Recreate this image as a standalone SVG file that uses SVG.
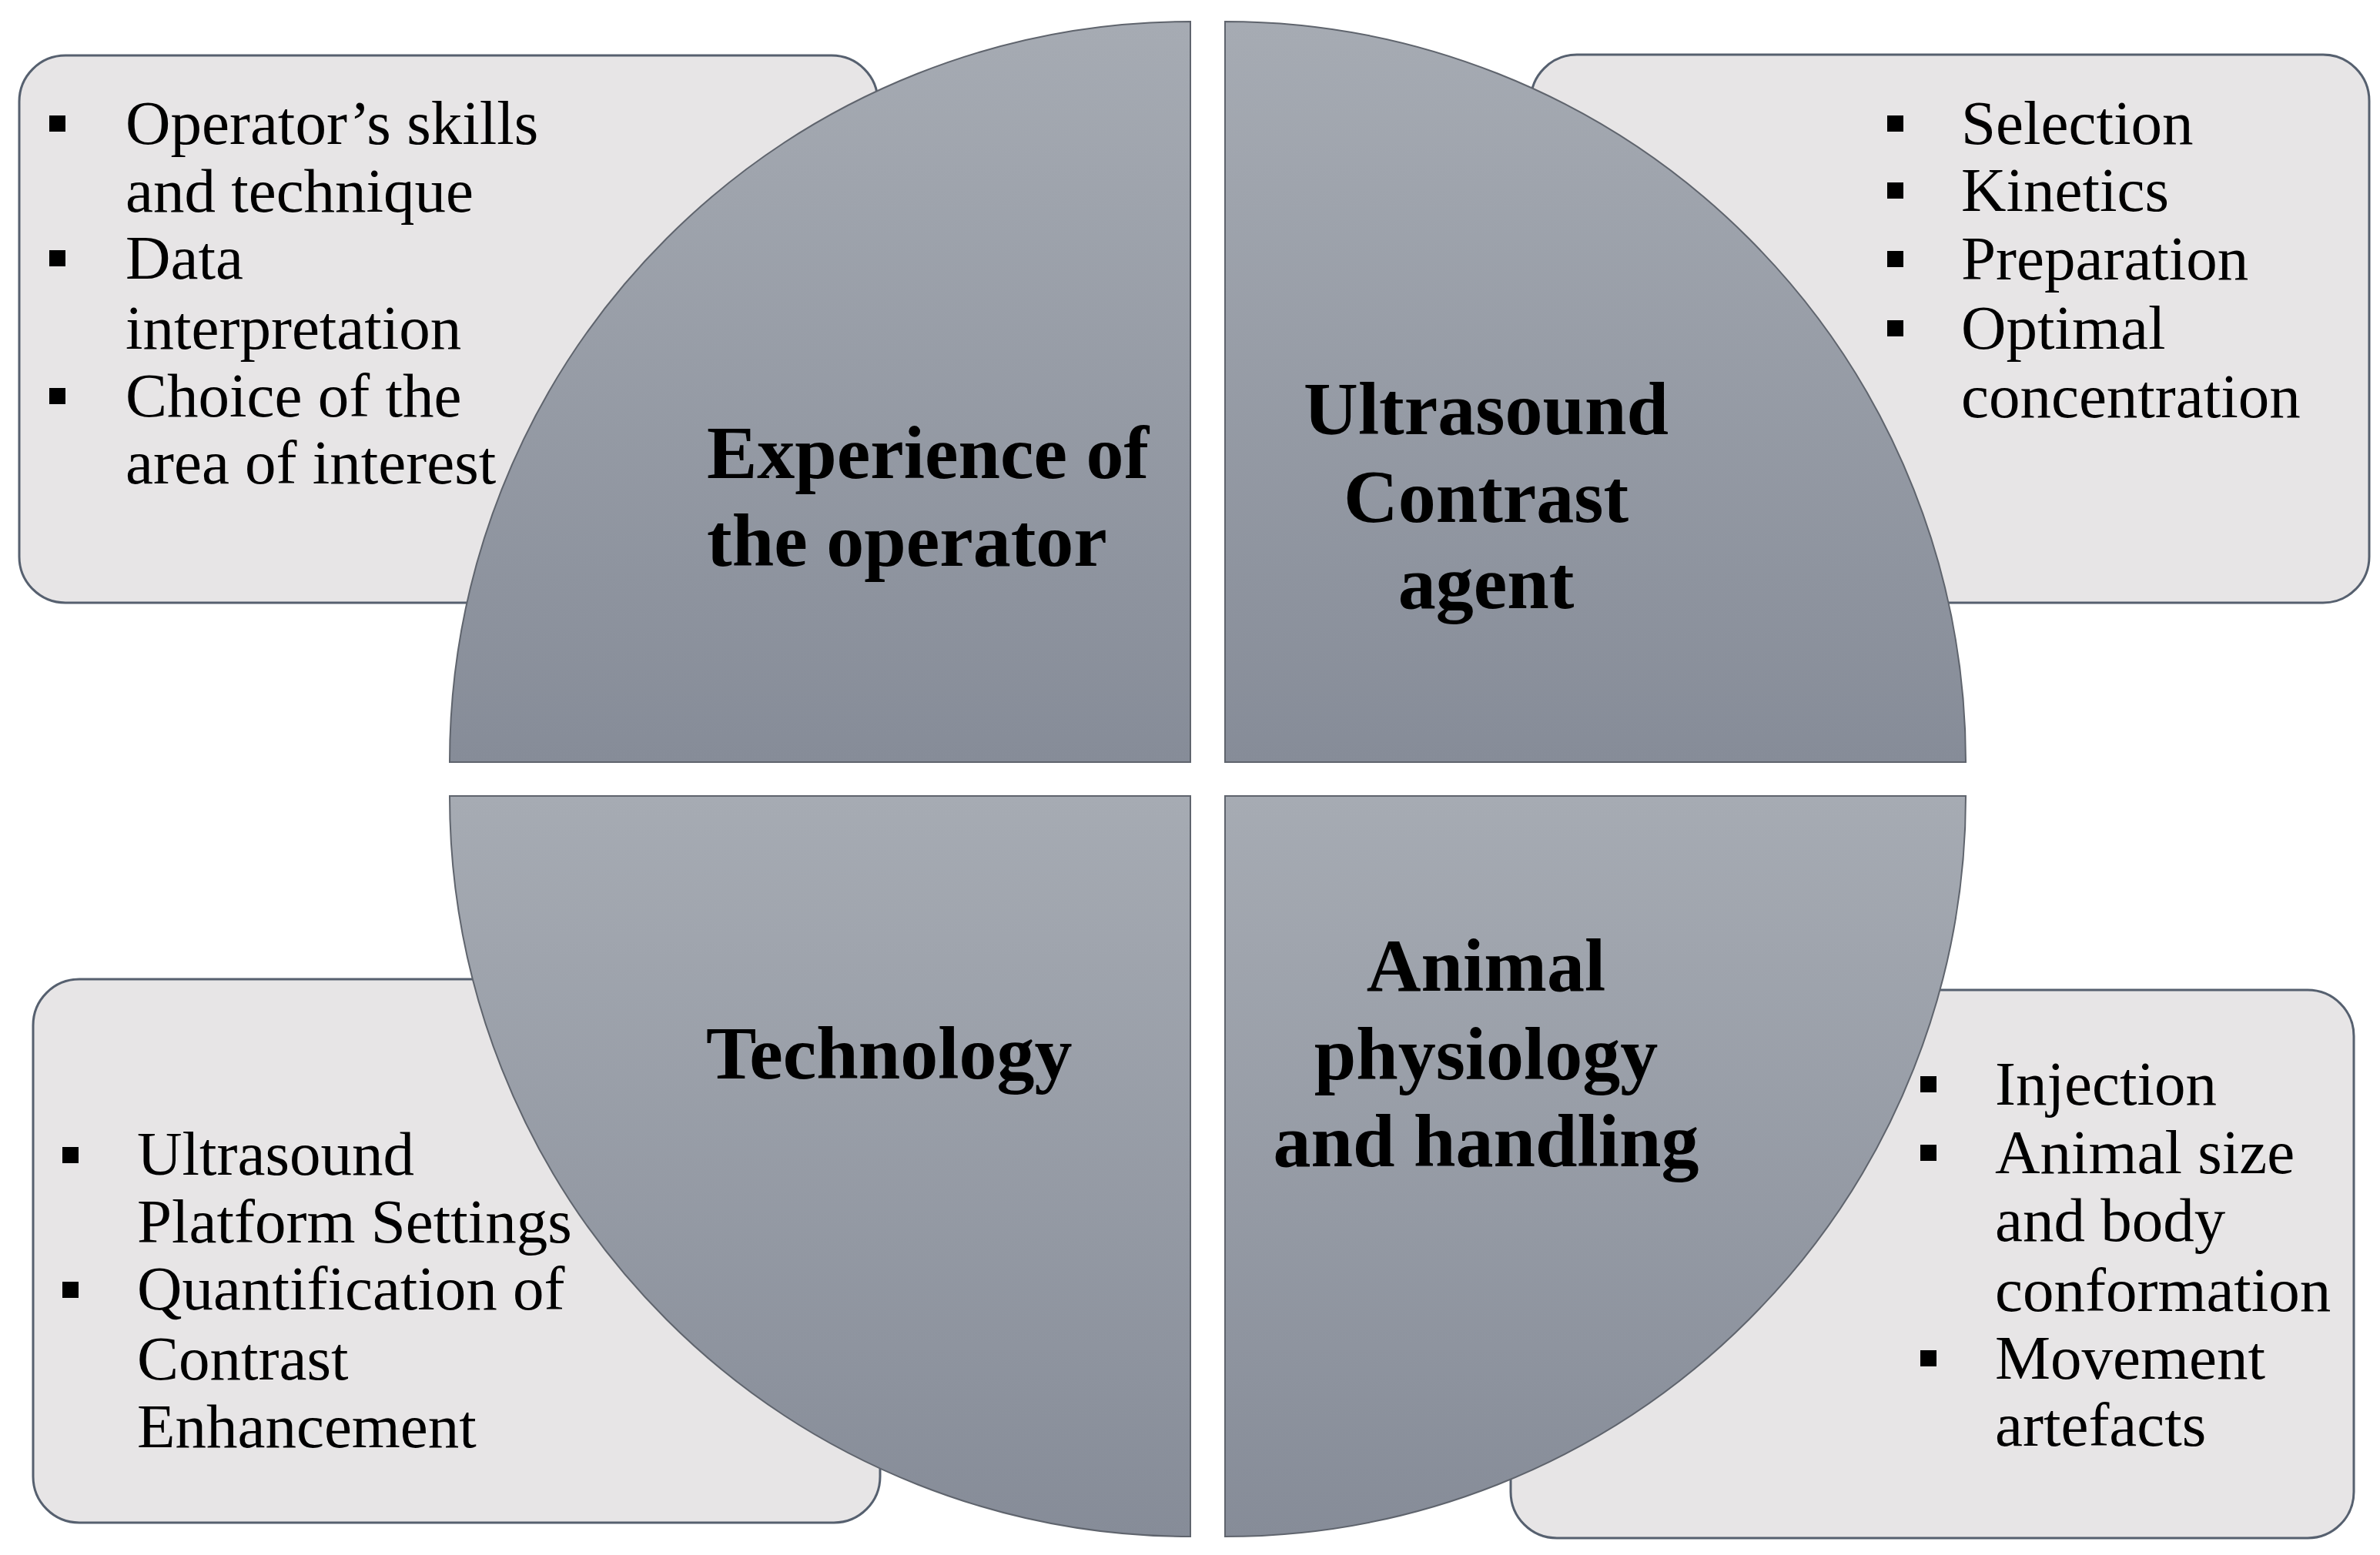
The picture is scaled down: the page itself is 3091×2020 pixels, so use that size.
<svg xmlns="http://www.w3.org/2000/svg" width="3091" height="2020" viewBox="0 0 3091 2020">
<defs>
<linearGradient id="qg" x1="0" y1="0" x2="0" y2="1">
<stop offset="0" stop-color="#a6abb3"/>
<stop offset="1" stop-color="#868c98"/>
</linearGradient>
<style>
.box{fill:#e7e5e6;stroke:#56606f;stroke-width:3}
.quad{fill:url(#qg);stroke:#5f646d;stroke-width:2}
.body{font-family:"Liberation Serif","Times New Roman",serif;font-size:81px;fill:#000}
.title{font-family:"Liberation Serif","Times New Roman",serif;font-size:98px;font-weight:bold;fill:#000}
.bul{fill:#000}
</style>
</defs>
<rect width="3091" height="2020" fill="#ffffff"/>
<g id="box-tl">
<rect class="box" x="25" y="72" width="1115" height="711" rx="60" ry="60"/>
<rect class="bul" x="64" y="150" width="21" height="21"/>
<rect class="bul" x="64" y="325" width="21" height="21"/>
<rect class="bul" x="64" y="504" width="21" height="21"/>
<text class="body" x="163" y="187">Operator’s skills</text>
<text class="body" x="163" y="275">and technique</text>
<text class="body" x="163" y="362">Data</text>
<text class="body" x="163" y="453">interpretation</text>
<text class="body" x="163" y="541">Choice of the</text>
<text class="body" x="163" y="628">area of interest</text>
</g>
<g id="box-tr">
<rect class="box" x="1988" y="71" width="1089" height="712" rx="60" ry="60"/>
<rect class="bul" x="2451" y="150" width="21" height="21"/>
<rect class="bul" x="2451" y="237" width="21" height="21"/>
<rect class="bul" x="2451" y="326" width="21" height="21"/>
<rect class="bul" x="2451" y="416" width="21" height="21"/>
<text class="body" x="2547" y="187">Selection</text>
<text class="body" x="2547" y="274">Kinetics</text>
<text class="body" x="2547" y="363">Preparation</text>
<text class="body" x="2547" y="453">Optimal</text>
<text class="body" x="2547" y="542">concentration</text>
</g>
<g id="box-bl">
<rect class="box" x="43" y="1272" width="1100" height="706" rx="60" ry="60"/>
<rect class="bul" x="81" y="1490" width="21" height="21"/>
<rect class="bul" x="81" y="1665" width="21" height="21"/>
<text class="body" x="178" y="1526">Ultrasound</text>
<text class="body" x="178" y="1614">Platform Settings</text>
<text class="body" x="178" y="1701">Quantification of</text>
<text class="body" x="178" y="1792">Contrast</text>
<text class="body" x="178" y="1880">Enhancement</text>
</g>
<g id="box-br">
<rect class="box" x="1962" y="1286" width="1095" height="712" rx="60" ry="60"/>
<rect class="bul" x="2494" y="1398" width="21" height="21"/>
<rect class="bul" x="2494" y="1487" width="21" height="21"/>
<rect class="bul" x="2494" y="1754" width="21" height="21"/>
<text class="body" x="2591" y="1435">Injection</text>
<text class="body" x="2591" y="1524">Animal size</text>
<text class="body" x="2591" y="1612">and body</text>
<text class="body" x="2591" y="1703">conformation</text>
<text class="body" x="2591" y="1791">Movement</text>
<text class="body" x="2591" y="1878">artefacts</text>
</g>
<g id="quad-tl">
<path class="quad" d="M1546,990 L584,990 A962,962 0 0 1 1546,28 Z"/>
<text class="title" x="918" y="621">Experience of</text>
<text class="title" x="918" y="735">the operator</text>
</g>
<g id="quad-tr">
<path class="quad" d="M1591,990 L1591,28 A962,962 0 0 1 2553,990 Z"/>
<text class="title" x="1930" y="564" text-anchor="middle">Ultrasound</text>
<text class="title" x="1930" y="678" text-anchor="middle">Contrast</text>
<text class="title" x="1930" y="790" text-anchor="middle">agent</text>
</g>
<g id="quad-bl">
<path class="quad" d="M1546,1034 L1546,1996 A962,962 0 0 1 584,1034 Z"/>
<text class="title" x="917" y="1401">Technology</text>
</g>
<g id="quad-br">
<path class="quad" d="M1591,1034 L2553,1034 A962,962 0 0 1 1591,1996 Z"/>
<text class="title" x="1930" y="1287" text-anchor="middle">Animal</text>
<text class="title" x="1930" y="1402" text-anchor="middle">physiology</text>
<text class="title" x="1930" y="1515" text-anchor="middle">and handling</text>
</g>
<g id="connectors"></g>
</svg>
